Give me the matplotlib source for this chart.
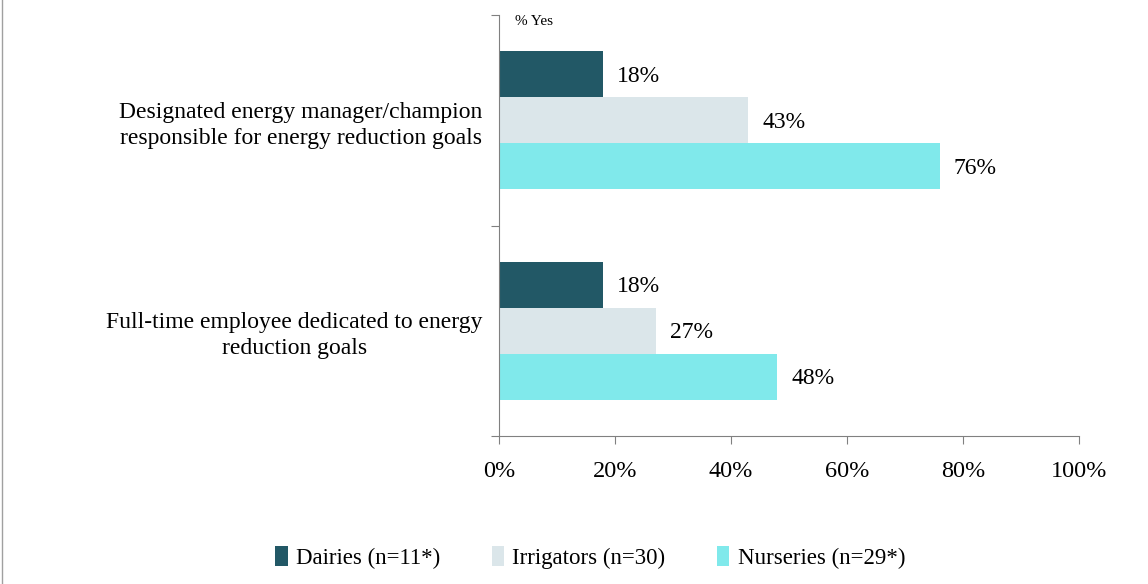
import matplotlib
matplotlib.use("Agg")
import matplotlib.pyplot as plt
from matplotlib.lines import Line2D
from matplotlib.patches import Patch
import numpy as np

# ── data ──────────────────────────────────────────────
categories = [
    "Designated energy manager/champion\nresponsible for energy reduction goals",
    "Full-time employee dedicated to energy\nreduction goals",
]
series_names = ["Dairies (n=11*)", "Irrigators (n=30)", "Nurseries (n=29*)"]
dairies = [18, 18]
irrigators = [43, 27]
nurseries = [76, 48]
x_ticks = [0, 20, 40, 60, 80, 100]

colors = ["#225866", "#DBE6EA", "#80E9EB"]

plt.rcParams["font.family"] = ["Liberation Serif", "DejaVu Serif"]

fig = plt.figure(figsize=(11.48, 5.84), dpi=100)
ax = fig.add_axes([0.4347, 0.2534, 0.5052, 0.7209])

bar_h = 0.218
centers = np.array([0.5, 1.5])
offsets = [-bar_h, 0, bar_h]
for vals, off, col, name in zip([dairies, irrigators, nurseries], offsets, colors, series_names):
    ax.barh(centers + off, vals, height=bar_h, color=col, label=name)
    for c, v in zip(centers, vals):
        ax.text(v + 2.4, c + off + 0.01, f"{v}%", va="center", ha="left", fontsize=17)

ax.set_xlim(0, 100)
ax.set_ylim(2, 0)
ax.set_xticks(x_ticks)
ax.set_xticklabels([f"{t}%" for t in x_ticks], fontsize=17.5)
ax.set_yticks([0, 1, 2])
ax.set_yticklabels([])
ax.set_yticks(centers, minor=True)
ax.set_yticklabels(categories, minor=True, fontsize=17, ha="right",
                   multialignment="center", linespacing=1.3)
ax.tick_params(axis="y", which="minor", length=0, pad=12)
ax.tick_params(axis="y", which="major", length=6, color="#808080", direction="out")
ax.tick_params(axis="x", length=6, color="#808080", direction="out", pad=12)
for s in ["top", "right"]:
    ax.spines[s].set_visible(False)
for s in ["left", "bottom"]:
    ax.spines[s].set_color("#808080")

ax.text(0.027, 1.0, "% Yes", transform=ax.transAxes, fontsize=11, va="top", ha="left")

handles = [Patch(facecolor=c) for c in colors]
fig.legend(handles, series_names, loc="center", bbox_to_anchor=(0.514, 0.046), ncol=3,
           frameon=False, fontsize=16.5, handlelength=0.55, handleheight=1.0,
           handletextpad=0.35, columnspacing=2.25)

fig.add_artist(Line2D([0.002, 0.002], [0, 1], transform=fig.transFigure, color="#A0A0A0", lw=1))

fig.savefig("out.png", dpi=100)
